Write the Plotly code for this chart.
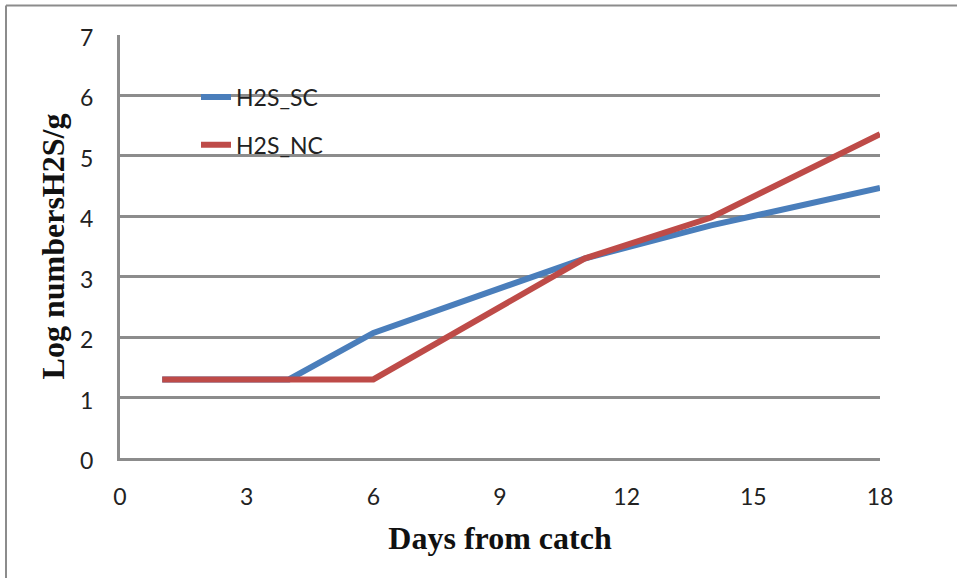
import plotly.graph_objects as go

days = [1, 4, 6, 11, 14, 18]
h2s_sc = [1.3, 1.3, 2.07, 3.3, 3.85, 4.47]
h2s_nc = [1.3, 1.3, 1.3, 3.3, 3.98, 5.36]
series_names = ["H2S_SC", "H2S_NC"]
series_colors = ["#4A7EBB", "#BE4B48"]
x_ticks = [0, 3, 6, 9, 12, 15, 18]
y_ticks = [0, 1, 2, 3, 4, 5, 6, 7]

fig = go.Figure()
for i, (name, vals) in enumerate(zip(series_names, [h2s_sc, h2s_nc])):
    fig.add_trace(go.Scatter(
        x=days, y=vals, mode="lines", name=name,
        legendgroup=name,
        line=dict(color=series_colors[i], width=6),
    ))

W, H = 957, 578
L, R, T, B = 120, 880, 34.5, 458

def px_x(p):
    return (p - L) / (R - L)

def px_y(p):
    return (B - p) / (B - T)

fig.update_layout(
    width=W, height=H,
    margin=dict(l=L, r=W - R, t=T, b=H - B),
    paper_bgcolor="white", plot_bgcolor="white",
    font=dict(family="Lato, Open Sans, sans-serif", size=23, color="#222"),
    xaxis=dict(
        range=[0, 18], tickvals=x_ticks, showgrid=False, zeroline=False,
        showline=True, linecolor="#8c8c8c", linewidth=3,
        ticks="", ticklabelstandoff=16,
        tickfont=dict(size=23, color="#222"),
        title=dict(text="<b>Days from catch</b>",
                   font=dict(family="Liberation Serif, Times New Roman, serif", size=32, color="#111"),
                   standoff=19),
    ),
    yaxis=dict(
        range=[0, 7], tickvals=y_ticks, showgrid=True, gridcolor="#8c8c8c", gridwidth=2.5,
        zeroline=False, showline=True, linecolor="#8c8c8c", linewidth=3,
        ticks="", ticklabelstandoff=19, ticklabelshift=3,
        tickfont=dict(size=23, color="#222"),
        title=dict(text="<b>Log numbersH2S/g</b>",
                   font=dict(family="Liberation Serif, Times New Roman, serif", size=32, color="#111"),
                   standoff=6),
    ),
    showlegend=True,
    legend=dict(
        x=px_x(196), y=px_y(75), xanchor="left", yanchor="top",
        bgcolor="rgba(0,0,0,0)", font=dict(size=23, color="#222"),
        traceorder="grouped", tracegroupgap=15,
    ),
    shapes=[
        dict(type="line", xref="paper", yref="paper",
             x0=px_x(6), x1=px_x(990), y0=px_y(5), y1=px_y(5),
             line=dict(color="#8c8c8c", width=2)),
        dict(type="line", xref="paper", yref="paper",
             x0=px_x(6), x1=px_x(6), y0=px_y(5), y1=px_y(600),
             line=dict(color="#8c8c8c", width=2)),
    ],
)

fig.write_html("out.html", config={"displayModeBar": False},
               post_script="document.body.style.margin='0px';")
